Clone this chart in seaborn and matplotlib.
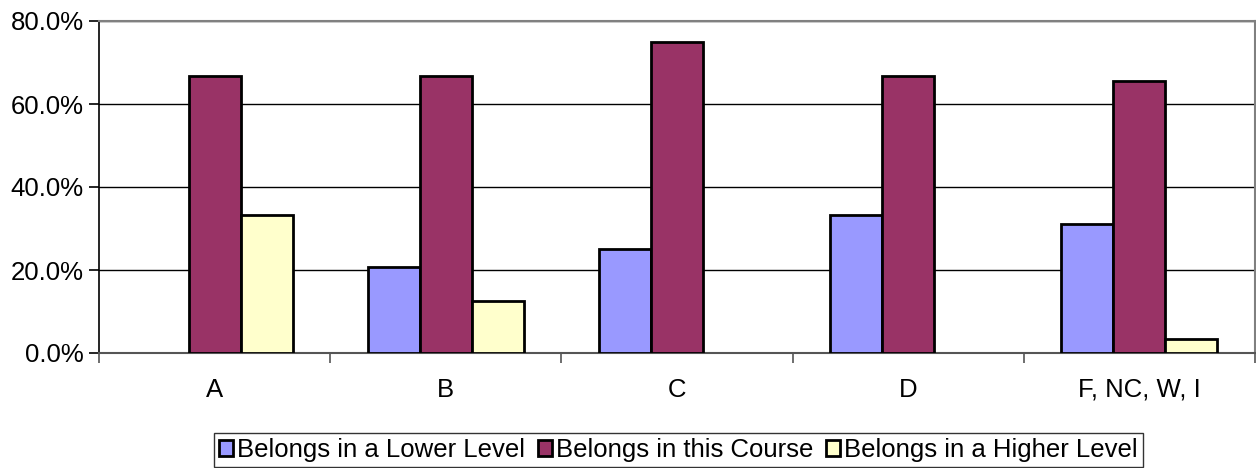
import matplotlib
matplotlib.use("Agg")
import matplotlib.pyplot as plt
import seaborn as sns
import pandas as pd
from matplotlib.ticker import FuncFormatter, MultipleLocator

categories = ["A", "B", "C", "D", "F, NC, W, I"]
series_names = ["Belongs in a Lower Level", "Belongs in this Course", "Belongs in a Higher Level"]
lower_level = [0.0, 20.8, 25.0, 33.3, 31.0]
this_course = [66.7, 66.7, 75.0, 66.7, 65.5]
higher_level = [33.3, 12.5, 0.0, 0.0, 3.4]
colors = ["#9999FF", "#993366", "#FFFFCC"]

rows = []
for name, vals in zip(series_names, [lower_level, this_course, higher_level]):
    for c, v in zip(categories, vals):
        rows.append({"Grade": c, "Series": name, "Value": v})
df = pd.DataFrame(rows)

sns.set_theme(style="white")
plt.rcParams["font.family"] = ["Liberation Sans", "DejaVu Sans"]
FS = 18.5
plt.rcParams["font.size"] = FS
plt.rcParams["text.color"] = "black"
plt.rcParams["xtick.labelcolor"] = "black"
plt.rcParams["ytick.labelcolor"] = "black"

fig = plt.figure(figsize=(12.56, 4.68), dpi=100)
ax = fig.add_axes([99 / 1256, 1 - 353 / 468, (1255 - 99) / 1256, (353 - 21) / 468])

sns.barplot(data=df, x="Grade", y="Value", hue="Series", hue_order=series_names,
            order=categories, palette=colors, width=0.674, gap=0,
            edgecolor="black", linewidth=2.0, saturation=1, ax=ax, zorder=3)

for p in ax.patches:
    if p.get_height() == 0:
        p.set_linewidth(0)

ax.set_ylim(0, 80)
ax.set_xlim(-0.5, len(categories) - 0.5)
ax.yaxis.set_major_locator(MultipleLocator(20))
ax.yaxis.set_major_formatter(FuncFormatter(lambda v, _: f"{v:.1f}%"))
ax.grid(axis="y", color="black", linewidth=1.0, zorder=0)
ax.set_axisbelow(True)

ax.set_xticks([i for i in range(len(categories))])
ax.set_xticklabels(categories, fontsize=FS, color="black")
ax.tick_params(axis="x", length=0, pad=18)
ax.set_xticks([i - 0.5 for i in range(len(categories) + 1)], minor=True)
ax.tick_params(axis="x", which="minor", length=7, width=1.2, color="#555555", direction="out")
ax.tick_params(axis="y", length=7, width=1.2, color="black", direction="out",
               labelsize=FS, labelcolor="black", pad=4)
ax.tick_params(axis="both", which="both", bottom=True, left=True)

ax.set_xlabel("")
ax.set_ylabel("")
for s in ["top", "right"]:
    ax.spines[s].set_color("#808080")
    ax.spines[s].set_linewidth(1.5)
ax.spines["left"].set_color("black")
ax.spines["left"].set_linewidth(1.2)
ax.spines["bottom"].set_color("#555555")
ax.spines["bottom"].set_linewidth(1.5)

handles, labels = ax.get_legend_handles_labels()
if ax.legend_:
    ax.legend_.remove()
leg = fig.legend(handles, labels, loc="center", bbox_to_anchor=(678.5 / 1256, 1 - 450 / 468),
                 ncol=3, frameon=True, fancybox=False, fontsize=FS,
                 handlelength=0.55, handleheight=0.55, handletextpad=0.15,
                 columnspacing=0.5, borderpad=0.2, borderaxespad=0)
leg.get_frame().set_edgecolor("black")
leg.get_frame().set_linewidth(1.0)
for t in leg.get_texts():
    t.set_color("black")
for h in leg.legend_handles:
    h.set_edgecolor("black")
    h.set_linewidth(2.0)

fig.savefig("out.png", dpi=100)
